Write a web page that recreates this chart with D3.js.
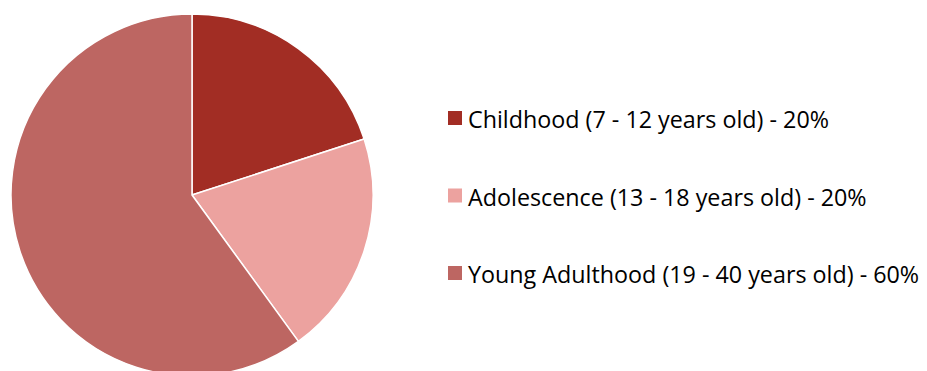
<!DOCTYPE html>
<html>
<head>
<meta charset="utf-8">
<script src="https://cdn.jsdelivr.net/npm/d3@7"></script>
<style>
  html, body { margin: 0; padding: 0; background: #fff; }
  svg { display: block; }
</style>
</head>
<body>
<svg id="chart" width="927" height="371"></svg>
<script>
// Age-group shares
const categories = [
  "Childhood (7 - 12 years old)",
  "Adolescence (13 - 18 years old)",
  "Young Adulthood (19 - 40 years old)"
];
const values = [20, 20, 60];
const colors = ["#A22D24", "#ECA29F", "#BD6662"];

const svg = d3.select("#chart");
const cx = 192, cy = 195, radius = 181;

const pie = d3.pie().sort(null).value(d => d.value);
const arc = d3.arc().innerRadius(0).outerRadius(radius);
const color = d3.scaleOrdinal().domain(categories).range(colors);

const data = categories.map((c, i) => ({ name: c, value: values[i] }));

svg.append("g")
  .attr("transform", `translate(${cx},${cy})`)
  .selectAll("path")
  .data(pie(data))
  .join("path")
  .attr("d", arc)
  .attr("fill", d => color(d.data.name))
  .attr("stroke", "#fff")
  .attr("stroke-width", 1.5)
  .attr("stroke-linejoin", "round");

// Legend
const legendY = d3.scalePoint().domain(categories).range([118, 273]);
const total = d3.sum(values);
const legend = svg.append("g")
  .selectAll("g")
  .data(data)
  .join("g")
  .attr("transform", d => `translate(448,${legendY(d.name)})`);

legend.append("rect")
  .attr("x", 0).attr("y", -7)
  .attr("width", 14).attr("height", 14)
  .attr("fill", d => color(d.name));

legend.append("text")
  .attr("x", 20).attr("y", 10)
  .attr("font-family", "'Open Sans', sans-serif")
  .attr("font-size", 23.3)
  .attr("fill", "#000")
  .text(d => `${d.name} - ${Math.round(d.value / total * 100)}%`);
</script>
</body>
</html>
